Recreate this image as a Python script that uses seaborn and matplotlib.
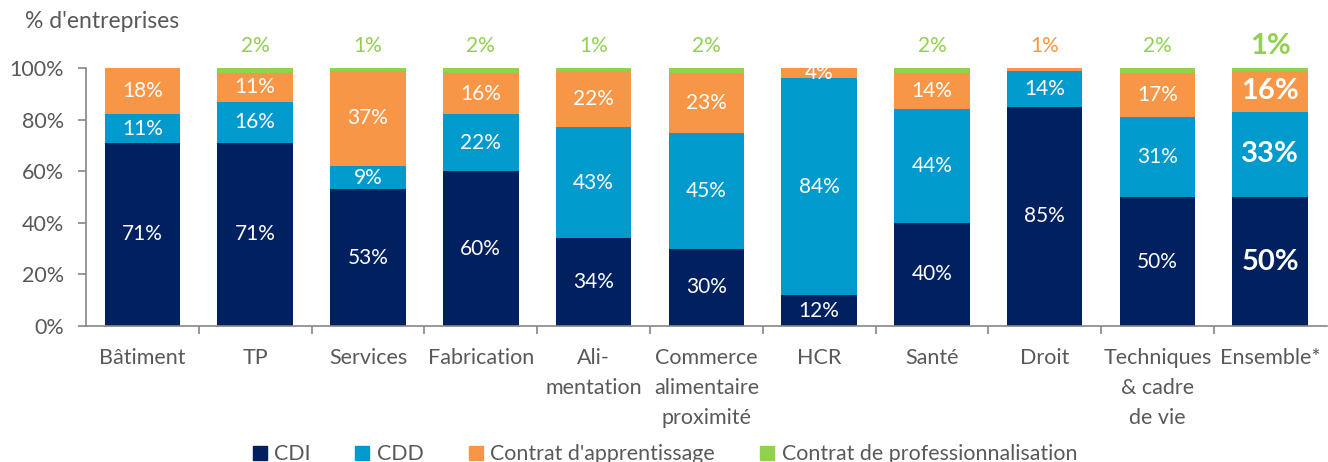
import matplotlib
matplotlib.use("Agg")
import matplotlib.pyplot as plt
import seaborn as sns
import numpy as np
import pandas as pd
from matplotlib.lines import Line2D

categories = ["Bâtiment", "TP", "Services", "Fabrication", "Ali-\nmentation",
              "Commerce\nalimentaire\nproximité", "HCR", "Santé", "Droit",
              "Techniques\n& cadre\nde vie", "Ensemble*"]
cdi = [71, 71, 53, 60, 34, 30, 12, 40, 85, 50, 50]
cdd = [11, 16, 9, 22, 43, 45, 84, 44, 14, 31, 33]
apprentissage = [18, 11, 37, 16, 22, 23, 4, 14, 1, 17, 16]
professionnalisation = [0, 2, 1, 2, 1, 2, 0, 2, 0, 2, 1]
series_names = ["CDI", "CDD", "Contrat d'apprentissage", "Contrat de professionnalisation"]
y_ticks = [0, 20, 40, 60, 80, 100]

colors = ["#002060", "#009ACD", "#F79646", "#92D050"]
grey = "#595959"

sns.set_theme(style="white")
plt.rcParams['font.family'] = ['Lato', 'DejaVu Sans']

fig = plt.figure(figsize=(13.28, 4.62), dpi=100)
ax = fig.add_axes([86/1328, 1 - 326/462, 1 - 86/1328 - 0.001, (326 - 68)/462])

series = [cdi, cdd, apprentissage, professionnalisation]
df = pd.DataFrame({"cat": categories})
bottom = np.zeros(len(categories))
for name, vals, col in zip(series_names, series, colors):
    vals = np.array(vals, dtype=float)
    sns.barplot(x=df["cat"], y=vals, bottom=bottom, color=col, width=0.67,
                ax=ax, saturation=1, edgecolor="none", linewidth=0, errorbar=None)
    bottom = bottom + vals

n = len(categories)
for i in range(n):
    last = i == n - 1
    fs = 21 if last else 15
    fw = "bold" if last else "normal"
    b = 0
    for k, vals in enumerate(series[:3]):
        v = vals[i]
        if v >= 3:
            ax.text(i, b + v / 2, f"{v}%", ha="center", va="center", color="white",
                    fontsize=fs, fontweight=fw)
        b += v
    p = professionnalisation[i]
    if p > 0:
        ax.text(i, 108.5, f"{p}%", ha="center", va="center", color=colors[3],
                fontsize=fs, fontweight=fw, clip_on=False)
    elif apprentissage[i] < 3:
        ax.text(i, 108.5, f"{apprentissage[i]}%", ha="center", va="center", color=colors[2],
                fontsize=fs, fontweight=fw, clip_on=False)

ax.set_ylim(0, 100)
ax.set_xlim(-0.5, n - 0.5)
ax.set_yticks(y_ticks)
ax.set_yticklabels([f"{t}%" for t in y_ticks], color=grey, fontsize=15.5)
ax.set_xticks(range(n))
ax.set_xticklabels(categories, color=grey, fontsize=15.5, linespacing=1.62, va="top")
ax.set_xlabel("")
ax.set_ylabel("")

for s in ["top", "right"]:
    ax.spines[s].set_visible(False)
for s in ["left", "bottom"]:
    ax.spines[s].set_color("#868686")
    ax.spines[s].set_linewidth(1.2)

ax.tick_params(axis="y", which="major", left=True, length=6, color="#868686", width=1.2, pad=10)
ax.tick_params(axis="x", which="major", bottom=False, pad=10)
ax.set_xticks(np.arange(0.5, n - 0.5, 1), minor=True)
ax.tick_params(axis="x", which="minor", bottom=True, length=6, color="#868686", width=1.2)

fig.text(25/1328, 1 - 22/462, "% d'entreprises", color=grey, fontsize=16.5,
         ha="left", va="center")

handles = [Line2D([0], [0], marker="s", linestyle="none", markersize=10,
                  markerfacecolor=c, markeredgecolor=c) for c in colors]
fig.legend(handles, series_names, loc="center", bbox_to_anchor=(664/1328, 1 - 454/462),
           ncol=4, frameon=False, fontsize=15.4, labelcolor=grey, handlelength=0.8,
           handletextpad=0.3, columnspacing=2.0, borderpad=0, borderaxespad=0)

fig.savefig("out.png", dpi=100)
